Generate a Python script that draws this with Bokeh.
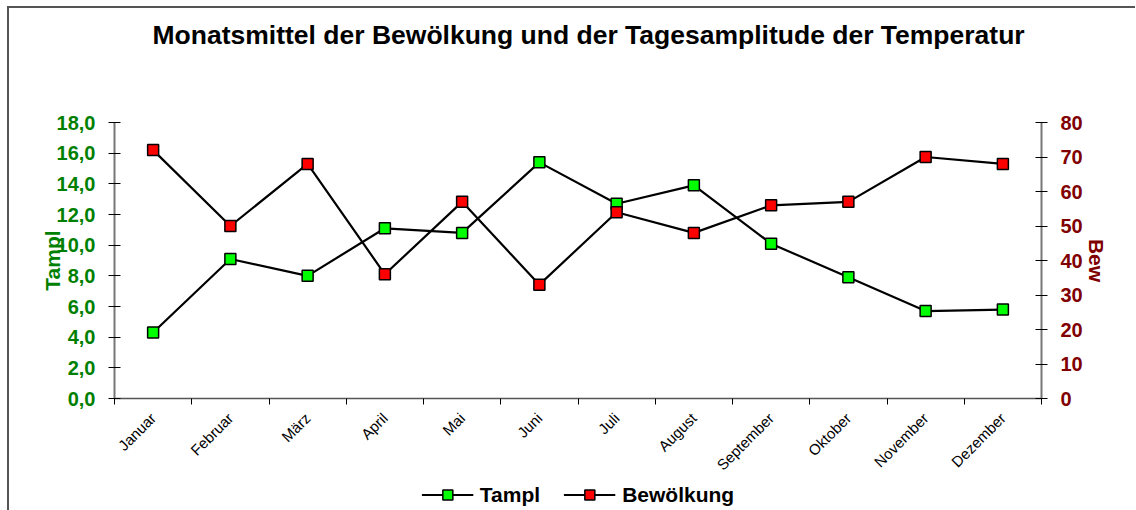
import math
from bokeh.plotting import figure
from bokeh.layouts import column
from bokeh.models import (Range1d, LinearAxis, FixedTicker, CustomJSTickFormatter)
from bokeh.embed import file_html
from bokeh.resources import INLINE
from bokeh.core.validation import silence
from bokeh.core.validation.warnings import MISSING_RENDERERS

silence(MISSING_RENDERERS, True)

# ---- data ----
months = ["Januar", "Februar", "März", "April", "Mai", "Juni", "Juli",
          "August", "September", "Oktober", "November", "Dezember"]
tampl = [4.3, 9.1, 8.0, 11.1, 10.8, 15.4, 12.7, 13.9, 10.1, 7.9, 5.7, 5.8]
bewoelkung = [72, 50, 68, 36, 57, 33, 54, 48, 56, 57, 70, 68]
left_ticks = [0, 2, 4, 6, 8, 10, 12, 14, 16, 18]
right_ticks = [0, 10, 20, 30, 40, 50, 60, 70, 80]
title_text = "Monatsmittel der Bewölkung und der Tagesamplitude der Temperatur"
series_names = ["Tampl", "Bewölkung"]
series_colors = ["#00ff00", "#ff0000"]

FONT = "Liberation Sans"
GREEN = "#008000"
DARKRED = "#800000"
W = 1126

x = [i + 0.5 for i in range(len(months))]

# ---- title strip ----
t = figure(width=W, height=60, output_backend="svg", toolbar_location=None,
           x_axis_type=None, y_axis_type=None, title=title_text,
           min_border_left=0, min_border_right=0, min_border_top=0, min_border_bottom=0,
           background_fill_color="white", border_fill_color="white",
           outline_line_color=None)
t.xgrid.visible = False
t.ygrid.visible = False
t.title.align = "left"
t.title.offset = 38
t.title.vertical_align = "top"
t.title.standoff = 23
t.title.text_font = FONT
t.title.text_font_size = "26.5px"
t.title.text_font_style = "bold"
t.title.text_color = "black"

# ---- main chart ----
p = figure(width=W, height=414, x_range=Range1d(0, len(months)),
           y_range=Range1d(left_ticks[0], left_ticks[-1]),
           output_backend="svg", toolbar_location=None,
           min_border_left=105, min_border_right=94,
           min_border_top=54, min_border_bottom=84,
           background_fill_color="white", border_fill_color="white",
           outline_line_color=None)
p.xgrid.visible = False
p.ygrid.visible = False
p.extra_y_ranges = {"bew": Range1d(right_ticks[0], right_ticks[-1])}

# x axis: labels at category centres, ticks at category boundaries
xa = p.xaxis[0]
xa.ticker = FixedTicker(ticks=x, minor_ticks=list(range(len(months) + 1)))
xa.formatter = CustomJSTickFormatter(args=dict(m=months), code="return m[Math.floor(tick)];")
xa.major_tick_in = 0
xa.major_tick_out = 0
xa.minor_tick_in = 0
xa.minor_tick_out = 6
xa.minor_tick_line_color = "black"
xa.axis_line_color = "#555555"
xa.axis_line_width = 1.5
xa.major_label_orientation = math.pi / 4
xa.major_label_text_font = FONT
xa.major_label_text_font_size = "15px"
xa.major_label_text_color = "black"
xa.major_label_standoff = 11

# left axis
ya = p.yaxis[0]
ya.ticker = FixedTicker(ticks=left_ticks, minor_ticks=[])
ya.formatter = CustomJSTickFormatter(code="return tick.toFixed(1).replace('.', ',');")
ya.major_tick_in = 6
ya.major_tick_out = 6
ya.major_tick_line_color = "black"
ya.axis_line_color = "#777777"
ya.axis_line_width = 2
ya.major_label_text_font = FONT
ya.major_label_text_font_size = "20px"
ya.major_label_text_font_style = "bold"
ya.major_label_text_color = GREEN
ya.major_label_standoff = 13
ya.axis_label = "Tampl"
ya.axis_label_text_font = FONT
ya.axis_label_text_font_size = "21px"
ya.axis_label_text_font_style = "bold"
ya.axis_label_text_color = GREEN
ya.axis_label_standoff = -10

# right axis
ra = LinearAxis(y_range_name="bew", ticker=FixedTicker(ticks=right_ticks, minor_ticks=[]))
ra.major_tick_in = 6
ra.major_tick_out = 6
ra.major_tick_line_color = "black"
ra.axis_line_color = "#777777"
ra.axis_line_width = 2
ra.major_label_text_font = FONT
ra.major_label_text_font_size = "20px"
ra.major_label_text_font_style = "bold"
ra.major_label_text_color = DARKRED
ra.major_label_standoff = 13
ra.axis_label = "Bew"
ra.axis_label_text_font = FONT
ra.axis_label_text_font_size = "21px"
ra.axis_label_text_font_style = "bold"
ra.axis_label_text_color = DARKRED
ra.axis_label_standoff = -1
p.add_layout(ra, "right")

# series
for vals, col, rng in [(tampl, series_colors[0], "default"),
                       (bewoelkung, series_colors[1], "bew")]:
    p.line(x, vals, line_color="black", line_width=2.2, y_range_name=rng)
    p.scatter(x, vals, marker="square", size=11, fill_color=col,
              line_color="black", line_width=1.5, y_range_name=rng)

# ---- legend strip (same styling as the series) ----
q = figure(width=W, height=28, output_backend="svg", toolbar_location=None,
           x_axis_type=None, y_axis_type=None,
           x_range=Range1d(0, 1), y_range=Range1d(0, 1),
           min_border_left=0, min_border_right=0, min_border_top=0, min_border_bottom=0,
           background_fill_color="white", border_fill_color="white",
           outline_line_color=None)
q.xgrid.visible = False
q.ygrid.visible = False
for name, col in zip(series_names, series_colors):
    q.line([math.nan], [math.nan], line_color="black", line_width=2.2, legend_label=name)
    q.scatter([math.nan], [math.nan], marker="square", size=11, fill_color=col,
              line_color="black", line_width=1.5, legend_label=name)
lg = q.legend[0]
lg.location = "top"
lg.orientation = "horizontal"
lg.glyph_width = 52
lg.glyph_height = 25
lg.label_height = 25
lg.label_text_font = FONT
lg.label_text_font_size = "21px"
lg.label_text_font_style = "bold"
lg.label_text_color = "black"
lg.label_standoff = 7
lg.spacing = 23
lg.padding = 0
lg.margin = 0
lg.border_line_alpha = 0
lg.background_fill_alpha = 0

layout = column(t, p, q, spacing=0)
layout.styles = {"margin-left": "7px", "margin-top": "6px",
                 "border-left": "2px solid #555555", "border-top": "2px solid #555555"}

open("out.html", "w").write(file_html(layout, INLINE))
